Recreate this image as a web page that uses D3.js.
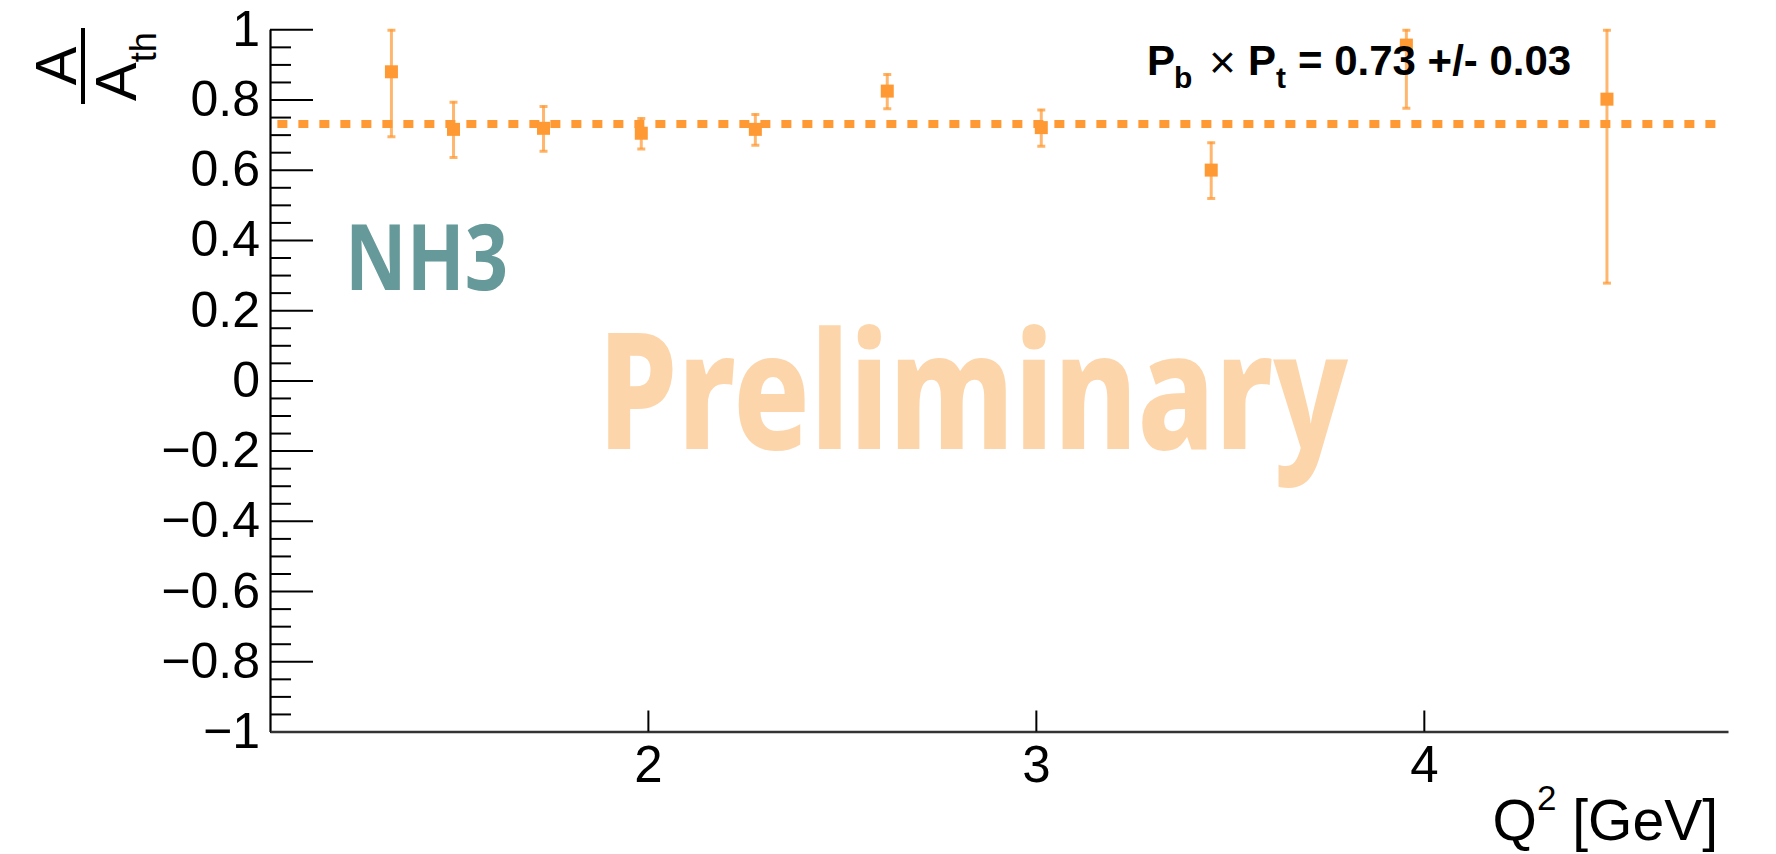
<!DOCTYPE html>
<html>
<head>
<meta charset="utf-8">
<script src="https://cdn.jsdelivr.net/npm/d3@7"></script>
<style>
  html, body { margin: 0; padding: 0; background: #fff; }
  svg { display: block; }
</style>
</head>
<body>
<svg id="chart" width="1776" height="854"></svg>
<script>
// Measured ratio A/A_th versus Q^2 for the NH3 target
const q2 = [1.339, 1.499, 1.731, 1.983, 2.277, 2.617, 3.014, 3.452, 3.955, 4.472];
const ratio = [0.879, 0.715, 0.718, 0.704, 0.715, 0.824, 0.720, 0.599, 0.955, 0.801];
const ratioErr = [0.185, 0.080, 0.065, 0.045, 0.045, 0.050, 0.053, 0.081, 0.180, 0.524];

// Fitted polarisation product P_b x P_t
const polProduct = 0.73;
const polProductErr = 0.03;
const polLineRange = [1.045, 4.755];

// Axis ticks
const xTicks = [2, 3, 4];
const yMajorTicks = [-1, -0.8, -0.6, -0.4, -0.2, 0, 0.2, 0.4, 0.6, 0.8, 1];
const yMinorTicks = d3.range(-20, 21).map(i => i * 0.05).filter(v => Math.abs(Math.round(v * 5) - v * 5) > 1e-6);

const ORANGE = "#ff9933";
const FONT = "'Liberation Sans', Arial, Helvetica, sans-serif";

const svg = d3.select("#chart");

const x = d3.scaleLinear().domain([1.026, 4.784]).range([270, 1728]);
const y = d3.scaleLinear().domain([-1, 1]).range([731.5, 29.3]);

// Watermark texts
svg.append("text")
  .attr("x", 598).attr("y", 449)
  .attr("textLength", 750).attr("lengthAdjust", "spacingAndGlyphs")
  .style("font-family", "'Noto Sans', 'Open Sans', sans-serif")
  .style("font-weight", 800).style("font-size", "162px")
  .style("fill", "rgb(253,213,170)")
  .text("Preliminary");

svg.append("text")
  .attr("x", 345).attr("y", 290)
  .attr("textLength", 163).attr("lengthAdjust", "spacingAndGlyphs")
  .style("font-family", "'Noto Sans', 'Open Sans', sans-serif")
  .style("font-weight", 700).style("font-size", "91px")
  .style("fill", "#669999")
  .text("NH3");

// Y axis: minor ticks
const yMinor = svg.append("g").attr("transform", `translate(${x.range()[0]},0)`)
  .call(d3.axisLeft(y).tickValues(yMinorTicks).tickSize(-21).tickSizeOuter(0).tickFormat(""));
yMinor.select(".domain").remove();
yMinor.selectAll("line").attr("stroke", "#000").attr("stroke-width", 2);

// Y axis: major ticks and labels
const fmt = d => (d < 0 ? "\u2212" : "") + String(+Math.abs(d).toFixed(1));
const yAxis = svg.append("g").attr("transform", `translate(${x.range()[0]},0)`)
  .call(d3.axisLeft(y).tickValues(yMajorTicks).tickSize(-43).tickSizeOuter(0).tickPadding(10).tickFormat(fmt));
yAxis.select(".domain").attr("stroke", "#000").attr("stroke-width", 2.2);
yAxis.selectAll("line").attr("stroke", "#000").attr("stroke-width", 2);
yAxis.selectAll("text")
  .style("font-family", FONT).style("font-size", "50px").attr("fill", "#000");

// X axis
const xAxis = svg.append("g").attr("transform", `translate(0,${y(-1)})`)
  .call(d3.axisBottom(x).tickValues(xTicks).tickSize(-21).tickSizeOuter(0).tickPadding(14).tickFormat(d3.format("d")));
xAxis.select(".domain").attr("stroke", "#333").attr("stroke-width", 2.5);
xAxis.selectAll("line").attr("stroke", "#000").attr("stroke-width", 2);
xAxis.selectAll("text")
  .style("font-family", FONT).style("font-size", "51px").attr("fill", "#000");

// X axis title
const xTitle = svg.append("text")
  .attr("x", 1718).attr("y", 840)
  .attr("text-anchor", "end")
  .style("font-family", FONT).style("font-size", "57px").attr("fill", "#000");
xTitle.append("tspan").text("Q");
xTitle.append("tspan").attr("dy", -30).style("font-size", "35px").text("2");
xTitle.append("tspan").attr("dy", 30).text(" [GeV]");

// Y axis title: fraction A / A_th, rotated
const yTitle = svg.append("g").attr("transform", "translate(83,104) rotate(-90)")
  .style("font-family", FONT).attr("fill", "#000");
yTitle.append("line").attr("x1", 0).attr("x2", 76).attr("y1", 0).attr("y2", 0)
  .attr("stroke", "#000").attr("stroke-width", 4);
yTitle.append("text").attr("x", 38).attr("y", -7).attr("text-anchor", "middle")
  .style("font-size", "58px").text("A");
const den = yTitle.append("text").attr("x", 3).attr("y", 53).style("font-size", "58px");
den.append("tspan").text("A");
den.append("tspan").attr("dy", 20).style("font-size", "36px").text("th");

// Polarisation product line
svg.append("line")
  .attr("x1", x(polLineRange[0])).attr("x2", x(polLineRange[1]))
  .attr("y1", y(polProduct)).attr("y2", y(polProduct))
  .attr("stroke", ORANGE).attr("stroke-width", 8)
  .attr("stroke-dasharray", "10 11");

// Data points with error bars, clipped to the frame
svg.append("clipPath").attr("id", "frame")
  .append("rect").attr("x", x.range()[0]).attr("y", y(1) - 2)
  .attr("width", x.range()[1] - x.range()[0]).attr("height", y(-1) - y(1) + 2);

const data = q2.map((q, i) => ({ q, v: ratio[i], e: ratioErr[i] }));
const pts = svg.append("g").attr("clip-path", "url(#frame)");
const lo = d => y(Math.max(-1, d.v - d.e));
const hi = d => y(Math.min(1, d.v + d.e));

pts.selectAll("line.err").data(data).join("line").attr("class", "err")
  .attr("x1", d => x(d.q)).attr("x2", d => x(d.q))
  .attr("y1", lo).attr("y2", hi)
  .attr("stroke", ORANGE).attr("stroke-opacity", 0.7).attr("stroke-width", 3);
pts.selectAll("line.capHi").data(data).join("line").attr("class", "capHi")
  .attr("x1", d => x(d.q) - 4).attr("x2", d => x(d.q) + 4)
  .attr("y1", d => hi(d) + 1).attr("y2", d => hi(d) + 1)
  .attr("stroke", ORANGE).attr("stroke-opacity", 0.75).attr("stroke-width", 3);
pts.selectAll("line.capLo").data(data).join("line").attr("class", "capLo")
  .attr("x1", d => x(d.q) - 4).attr("x2", d => x(d.q) + 4)
  .attr("y1", lo).attr("y2", lo)
  .attr("stroke", ORANGE).attr("stroke-opacity", 0.75).attr("stroke-width", 3);
pts.selectAll("rect.marker").data(data).join("rect").attr("class", "marker")
  .attr("x", d => x(d.q) - 6.5).attr("y", d => y(d.v) - 6.5)
  .attr("width", 13).attr("height", 13)
  .attr("fill", ORANGE);

// Polarisation product label
const lab = svg.append("g").style("font-family", FONT).attr("fill", "#000");
lab.append("text").attr("x", 1147).attr("y", 75).style("font-size", "42px").style("font-weight", 700).text("P");
lab.append("text").attr("x", 1174).attr("y", 88).style("font-size", "30px").style("font-weight", 700).text("b");
lab.append("text").attr("x", 1209).attr("y", 78).style("font-size", "46px").text("\u00d7");
lab.append("text").attr("x", 1248).attr("y", 75).style("font-size", "42px").style("font-weight", 700).text("P");
lab.append("text").attr("x", 1276).attr("y", 88).style("font-size", "30px").style("font-weight", 700).text("t");
lab.append("text").attr("x", 1298).attr("y", 75).style("font-size", "42px").style("font-weight", 700)
  .text(`= ${polProduct.toFixed(2)} +/- ${polProductErr.toFixed(2)}`);
</script>
</body>
</html>
